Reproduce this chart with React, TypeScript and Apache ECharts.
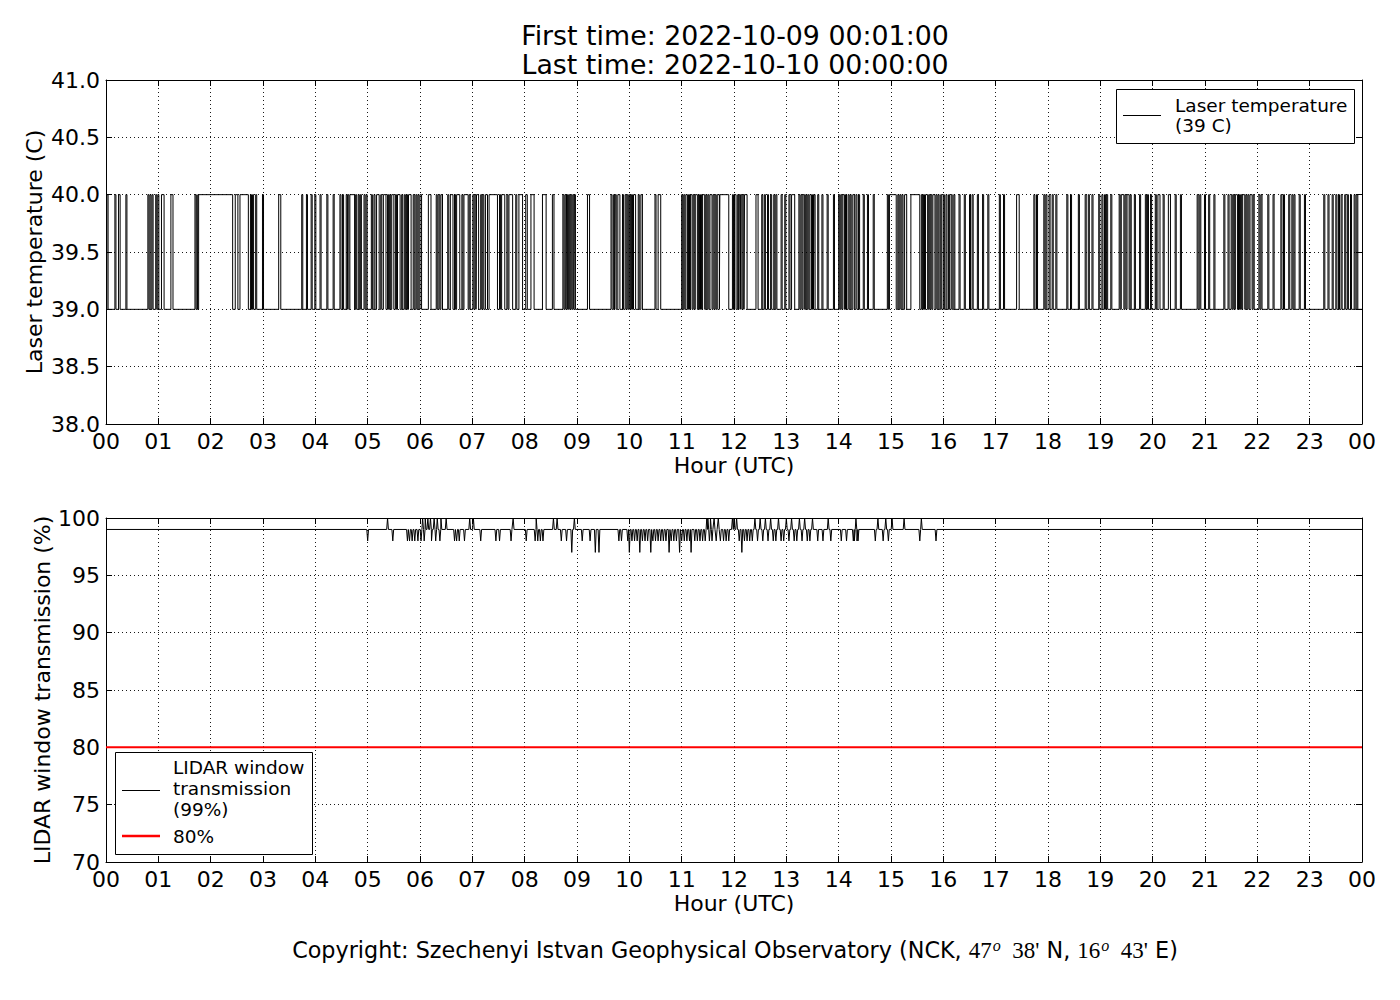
import React, { useEffect, useRef } from 'react';
import * as echarts from 'echarts';

// ---------- data ----------
const HOUR_LABELS = ['00','01','02','03','04','05','06','07','08','09','10','11','12','13','14','15','16','17','18','19','20','21','22','23','00'];
const TEMP_TICKS = ['38.0','38.5','39.0','39.5','40.0','40.5','41.0'];
const TRANS_TICKS = ['70','75','80','85','90','95','100'];
const FIRST_TIME = '2022-10-09 00:01:00';
const LAST_TIME = '2022-10-10 00:00:00';
const TEMP_LOW = 39;
const TEMP_HIGH = 40;
// hours (UTC) during which laser temperature read 40 C (otherwise 39 C)
const LASER_HIGH_INTERVALS: [number, number][] = [
  [0.017,0.04],[0.17,0.19],[0.24,0.27],[0.38,0.40],[0.80,0.82],[0.84,0.86],[0.88,0.90],[0.95,0.97],
  [0.99,1.01],[1.06,1.11],[1.24,1.28],[1.70,1.72],[1.74,1.75],[1.77,2.42],
  [2.47,2.52],[2.56,2.72],[2.76,2.78],[2.80,2.82],[2.86,2.88],[2.99,3.01],
  [3.30,3.34],[3.74,3.76],[3.83,3.85],[3.92,3.94],[3.99,4.01],
  [4.09,4.11],[4.22,4.24],[4.34,4.36],[4.47,4.49],[4.52,4.54],[4.59,4.61],[4.62,4.64],[4.66,4.75],[4.77,4.79],[4.82,4.84],[4.86,4.88],[4.93,4.95],[4.97,4.99],
  [5.07,5.09],[5.12,5.14],[5.17,5.22],[5.25,5.27],[5.30,5.35],[5.38,5.40],[5.42,5.44],[5.46,5.50],[5.53,5.55],[5.57,5.62],[5.65,5.67],[5.70,5.72],[5.74,5.76],[5.78,5.83],[5.87,5.89],[5.92,5.94],[5.96,5.98],
  [6.00,6.03],[6.16,6.21],[6.31,6.33],[6.36,6.38],[6.40,6.43],[6.53,6.55],[6.58,6.63],[6.66,6.68],[6.70,6.76],[6.80,6.82],[6.84,6.92],[6.94,6.96],
  [7.01,7.03],[7.05,7.07],[7.08,7.12],[7.16,7.18],[7.20,7.22],[7.25,7.29],[7.32,7.48],[7.52,7.54],[7.56,7.62],[7.66,7.68],[7.70,7.77],[7.83,7.85],[7.89,7.96],
  [8.02,8.05],[8.12,8.18],[8.34,8.41],[8.53,8.56],[8.73,8.75],[8.77,8.79],[8.80,8.82],[8.84,8.86],[8.88,8.90],[8.92,8.94],[8.95,8.97],
  [9.20,9.24],[9.65,9.67],[9.70,9.72],[9.73,9.75],[9.78,9.82],[9.87,9.89],[9.92,9.94],[9.96,9.98],
  [10.00,10.02],[10.04,10.06],[10.08,10.12],[10.17,10.19],[10.22,10.25],[10.49,10.51],[10.55,10.60],
  [11.00,11.02],[11.04,11.06],[11.08,11.11],[11.13,11.15],[11.17,11.20],[11.22,11.24],[11.26,11.30],[11.32,11.34],[11.36,11.38],[11.40,11.44],[11.46,11.48],[11.50,11.52],[11.54,11.58],[11.60,11.62],[11.64,11.66],[11.68,11.72],[11.73,11.90],[11.97,11.99],
  [12.01,12.04],[12.07,12.09],[12.10,12.12],[12.13,12.15],[12.17,12.19],[12.20,12.25],[12.42,12.46],[12.53,12.55],[12.58,12.60],[12.64,12.66],[12.70,12.72],[12.76,12.78],[12.80,12.82],[12.90,12.92],[12.97,12.99],
  [13.05,13.07],[13.10,13.16],[13.24,13.26],[13.28,13.30],[13.32,13.35],[13.37,13.39],[13.41,13.43],[13.45,13.48],[13.50,13.52],[13.53,13.55],[13.60,13.62],[13.68,13.70],[13.78,13.80],[13.90,13.92],
  [14.00,14.02],[14.04,14.06],[14.08,14.11],[14.13,14.15],[14.18,14.20],[14.22,14.24],[14.27,14.30],[14.33,14.35],[14.38,14.40],[14.47,14.49],[14.55,14.57],[14.66,14.68],[14.93,14.95],
  [14.97,15.10],[15.13,15.15],[15.17,15.19],[15.21,15.23],[15.26,15.30],[15.38,15.55],[15.58,15.60],[15.62,15.64],[15.66,15.70],[15.72,15.74],[15.76,15.78],[15.80,15.84],[15.86,15.88],[15.90,15.92],[15.95,15.97],
  [16.00,16.02],[16.05,16.07],[16.10,16.12],[16.15,16.17],[16.20,16.22],[16.30,16.32],[16.40,16.42],[16.50,16.52],[16.55,16.57],[16.65,16.67],[16.75,16.77],[16.85,16.87],
  [17.07,17.09],[17.15,17.17],[17.40,17.45],[17.73,17.75],[17.78,17.80],[17.92,17.94],[17.96,17.98],
  [18.02,18.04],[18.08,18.10],[18.15,18.17],[18.36,18.38],[18.43,18.45],[18.58,18.60],[18.71,18.73],[18.77,18.79],[18.84,18.86],[18.97,18.99],
  [19.03,19.05],[19.08,19.10],[19.12,19.14],[19.20,19.22],[19.36,19.38],[19.40,19.45],[19.47,19.49],[19.51,19.55],[19.57,19.59],[19.65,19.67],[19.75,19.77],[19.86,19.88],[19.90,19.92],[19.96,19.98],
  [20.05,20.07],[20.10,20.14],[20.20,20.22],[20.30,20.34],[20.43,20.45],[20.53,20.55],[20.85,20.87],[20.90,20.92],[20.99,21.01],
  [21.07,21.09],[21.17,21.19],[21.36,21.38],[21.44,21.46],[21.50,21.52],[21.54,21.56],[21.58,21.62],[21.64,21.66],[21.68,21.70],[21.72,21.76],[21.78,21.80],[21.82,21.84],[21.86,21.90],[21.92,21.94],
  [22.03,22.05],[22.07,22.09],[22.20,22.22],[22.30,22.32],[22.45,22.47],[22.50,22.52],[22.60,22.62],[22.66,22.68],[22.70,22.72],[22.80,22.82],[22.90,22.92],
  [23.27,23.29],[23.35,23.37],[23.43,23.45],[23.50,23.52],[23.55,23.57],[23.60,23.62],[23.67,23.69],[23.72,23.74],[23.78,23.80],[23.85,23.87],[23.90,23.92],
];
const LIDAR_BASE = 99;
// [hour, %] one-minute excursions of the LIDAR window transmission away from 99 %
const LIDAR_EXCURSIONS: [number, number][] = [
  [5.00,98],[5.38,100],[5.48,98],[5.76,98],[5.80,98],[5.85,98],[5.90,98],[5.96,98],
  [6.02,98],[6.05,100],[6.08,98],[6.10,100],[6.15,100],[6.20,100],[6.22,98],[6.27,100],[6.30,98],[6.33,100],[6.38,98],[6.40,100],[6.50,100],[6.66,98],[6.70,98],[6.75,98],[6.85,98],[6.95,100],
  [7.02,100],[7.16,98],[7.45,98],[7.52,98],[7.74,98],[7.78,100],
  [8.03,98],[8.20,98],[8.22,100],[8.25,98],[8.30,98],[8.35,98],[8.55,100],[8.62,100],[8.70,98],[8.80,98],[8.90,97],[8.95,100],
  [9.10,98],[9.25,98],[9.35,97],[9.42,97],[9.80,98],[9.85,98],[9.97,98],
  [10.00,97],[10.05,98],[10.10,98],[10.15,98],[10.20,97],[10.25,98],[10.30,98],[10.35,98],[10.41,97],[10.45,98],[10.50,98],[10.55,98],[10.60,98],[10.65,98],[10.70,98],[10.76,97],[10.80,98],[10.85,98],[10.90,98],[10.96,97],
  [11.00,98],[11.05,98],[11.10,98],[11.15,98],[11.18,97],[11.25,98],[11.30,98],[11.35,98],[11.40,98],[11.45,98],[11.48,100],[11.50,100],[11.53,98],[11.55,100],[11.58,98],[11.62,100],[11.66,98],[11.70,100],[11.74,98],[11.80,98],[11.85,98],[11.90,98],[11.97,100],
  [12.00,100],[12.05,100],[12.10,98],[12.15,97],[12.20,98],[12.25,98],[12.30,98],[12.35,98],[12.40,100],[12.45,98],[12.50,100],[12.55,98],[12.60,100],[12.65,98],[12.70,100],[12.75,98],[12.80,98],[12.85,100],[12.90,98],[12.95,98],
  [13.00,100],[13.05,98],[13.10,100],[13.15,98],[13.20,98],[13.25,100],[13.30,98],[13.35,100],[13.40,98],[13.45,98],[13.50,100],[13.60,98],[13.70,98],[13.80,100],[13.85,98],
  [14.05,98],[14.15,98],[14.28,98],[14.30,98],[14.33,100],[14.35,98],[14.37,98],[14.70,98],[14.75,100],[14.85,98],[14.90,100],[14.95,98],
  [15.02,100],[15.25,100],[15.55,98],[15.58,100],[15.86,98],
];
const THRESHOLD = 80;

// ---------- styles ----------
const FONT = 'DejaVu Sans';
const BLACK = '#000000';

function buildTemp(): number[][] {
  const d: number[][] = [[1 / 60, TEMP_LOW]];
  for (const [s, e] of LASER_HIGH_INTERVALS) {
    d.push([s, TEMP_LOW], [s, TEMP_HIGH], [e, TEMP_HIGH], [e, TEMP_LOW]);
  }
  d.push([24, TEMP_LOW]);
  return d;
}

function buildLidar(): number[][] {
  const dt = 1 / 60;
  const d: number[][] = [[1 / 60, LIDAR_BASE]];
  let last = 1 / 60;
  for (const [h, v] of LIDAR_EXCURSIONS) {
    const a = Math.max(h - dt, last);
    if (a > last) d.push([a, LIDAR_BASE]);
    d.push([h, v]);
    last = h + dt;
    d.push([last, LIDAR_BASE]);
  }
  d.push([24, LIDAR_BASE]);
  return d;
}

const labelStyle = { color: BLACK, fontFamily: FONT, fontSize: 22 };
const gridLine = { show: true, lineStyle: { color: BLACK, width: 1, type: [1, 3] as any, opacity: 0.9 } };
const frameLine = { show: true, onZero: false, lineStyle: { color: BLACK, width: 1 } };
const tick = { show: true, inside: true, length: 6, lineStyle: { color: BLACK, width: 1 } };

function xAxes(gridIndex: number) {
  const base = { gridIndex, type: 'value', min: 0, max: 24, interval: 1 };
  return [
    {
      ...base, position: 'bottom', axisLine: frameLine, axisTick: tick, splitLine: gridLine,
      axisLabel: { ...labelStyle, margin: 6, showMinLabel: true, showMaxLabel: true,
        formatter: (v: number) => HOUR_LABELS[Math.round(v)] },
      name: 'Hour (UTC)', nameLocation: 'middle', nameGap: 30, nameMoveOverlap: false, nameTextStyle: labelStyle,
    },
    { ...base, position: 'top', axisLine: frameLine, axisTick: tick, splitLine: { show: false }, axisLabel: { show: false } },
  ];
}

function yAxes(gridIndex: number, min: number, max: number, interval: number, ticks: string[], name: string, gap: number) {
  const base = { gridIndex, type: 'value', min, max, interval };
  return [
    {
      ...base, position: 'left', axisLine: frameLine, axisTick: tick, splitLine: gridLine,
      axisLabel: { ...labelStyle, margin: 6, showMinLabel: true, showMaxLabel: true,
        formatter: (v: number) => ticks[Math.round((v - min) / interval)] },
      name, nameLocation: 'middle', nameGap: gap, nameRotate: 90, nameMoveOverlap: false, nameTextStyle: labelStyle,
    },
    { ...base, position: 'right', axisLine: frameLine, axisTick: tick, splitLine: { show: false }, axisLabel: { show: false } },
  ];
}

export default function App() {
  const ref = useRef<HTMLDivElement>(null);
  useEffect(() => {
    if (!ref.current) return;
    const chart = echarts.init(ref.current, null, { renderer: 'svg' });
    const legendText = { fill: BLACK, fontFamily: FONT, fontSize: 18.5, verticalAlign: 'middle', align: 'left' };
    const option: any = {
      animation: false,
      backgroundColor: '#ffffff',
      grid: [
        { left: 106, top: 80, width: 1256, height: 344, containLabel: false, show: false },
        { left: 106, top: 518, width: 1256, height: 344, containLabel: false, show: false },
      ],
      xAxis: [...xAxes(0), ...xAxes(1)],
      yAxis: [
        ...yAxes(0, 38, 41, 0.5, TEMP_TICKS, 'Laser temperature (C)', 61),
        ...yAxes(1, 70, 100, 5, TRANS_TICKS, 'LIDAR window transmission (%)', 53),
      ],
      series: [
        { name: 'Laser temperature (39 C)', type: 'line', xAxisIndex: 0, yAxisIndex: 0, data: buildTemp(),
          symbol: 'none', showSymbol: false, lineStyle: { color: BLACK, width: 1 }, silent: true, z: 3 },
        { name: 'LIDAR window transmission (99%)', type: 'line', xAxisIndex: 2, yAxisIndex: 2, data: buildLidar(),
          symbol: 'none', showSymbol: false, lineStyle: { color: BLACK, width: 1 }, silent: true, z: 3 },
        { name: '80%', type: 'line', xAxisIndex: 2, yAxisIndex: 2, data: [[0, THRESHOLD], [24, THRESHOLD]],
          symbol: 'none', showSymbol: false, lineStyle: { color: '#ff0000', width: 2 }, silent: true, z: 4 },
      ],
      graphic: [
        { type: 'text', z: 100, style: { text: 'First time: ' + FIRST_TIME, x: 735, y: 35, align: 'center', verticalAlign: 'middle', fill: BLACK, fontFamily: FONT, fontSize: 26.8 } },
        { type: 'text', z: 100, style: { text: 'Last time: ' + LAST_TIME, x: 735, y: 64, align: 'center', verticalAlign: 'middle', fill: BLACK, fontFamily: FONT, fontSize: 26.8 } },
        // top legend
        { type: 'rect', z: 100, shape: { x: 1116.5, y: 89.5, width: 238, height: 54 }, style: { fill: '#fff', stroke: BLACK, lineWidth: 1 } },
        { type: 'line', z: 101, shape: { x1: 1123, y1: 115.5, x2: 1161, y2: 115.5 }, style: { stroke: BLACK, lineWidth: 1 } },
        { type: 'text', z: 101, style: { ...legendText, text: 'Laser temperature', x: 1175, y: 105 } },
        { type: 'text', z: 101, style: { ...legendText, text: '(39 C)', x: 1175, y: 125 } },
        // bottom legend
        { type: 'rect', z: 100, shape: { x: 115.5, y: 752.5, width: 197, height: 102 }, style: { fill: '#fff', stroke: BLACK, lineWidth: 1 } },
        { type: 'line', z: 101, shape: { x1: 122, y1: 790.5, x2: 160, y2: 790.5 }, style: { stroke: BLACK, lineWidth: 1 } },
        { type: 'text', z: 101, style: { ...legendText, text: 'LIDAR window', x: 173, y: 767 } },
        { type: 'text', z: 101, style: { ...legendText, text: 'transmission', x: 173, y: 788 } },
        { type: 'text', z: 101, style: { ...legendText, text: '(99%)', x: 173, y: 809 } },
        { type: 'line', z: 101, shape: { x1: 122, y1: 836, x2: 160, y2: 836 }, style: { stroke: '#ff0000', lineWidth: 2.5 } },
        { type: 'text', z: 101, style: { ...legendText, text: '80%', x: 173, y: 836 } },
        // copyright
        { type: 'text', z: 100, style: {
          x: 735, y: 950, align: 'center', verticalAlign: 'middle', fill: BLACK, fontFamily: FONT, fontSize: 22.3,
          text: 'Copyright: Szechenyi Istvan Geophysical Observatory (NCK, {m|47}{s|o}{m|  38\'} N, {m|16}{s|o}{m|  43\'} E)',
          rich: {
            m: { fontFamily: 'Liberation Serif', fontSize: 23, fill: BLACK },
            s: { fontFamily: 'Liberation Serif', fontStyle: 'italic', fontSize: 16, fill: BLACK, padding: [0, 0, 10, 1] },
          },
        } },
      ],
    };
    chart.setOption(option);
    return () => chart.dispose();
  }, []);
  return <div ref={ref} style={{ position: 'absolute', left: 0, top: 0, width: 1400, height: 1000, background: '#fff' }} />;
}
